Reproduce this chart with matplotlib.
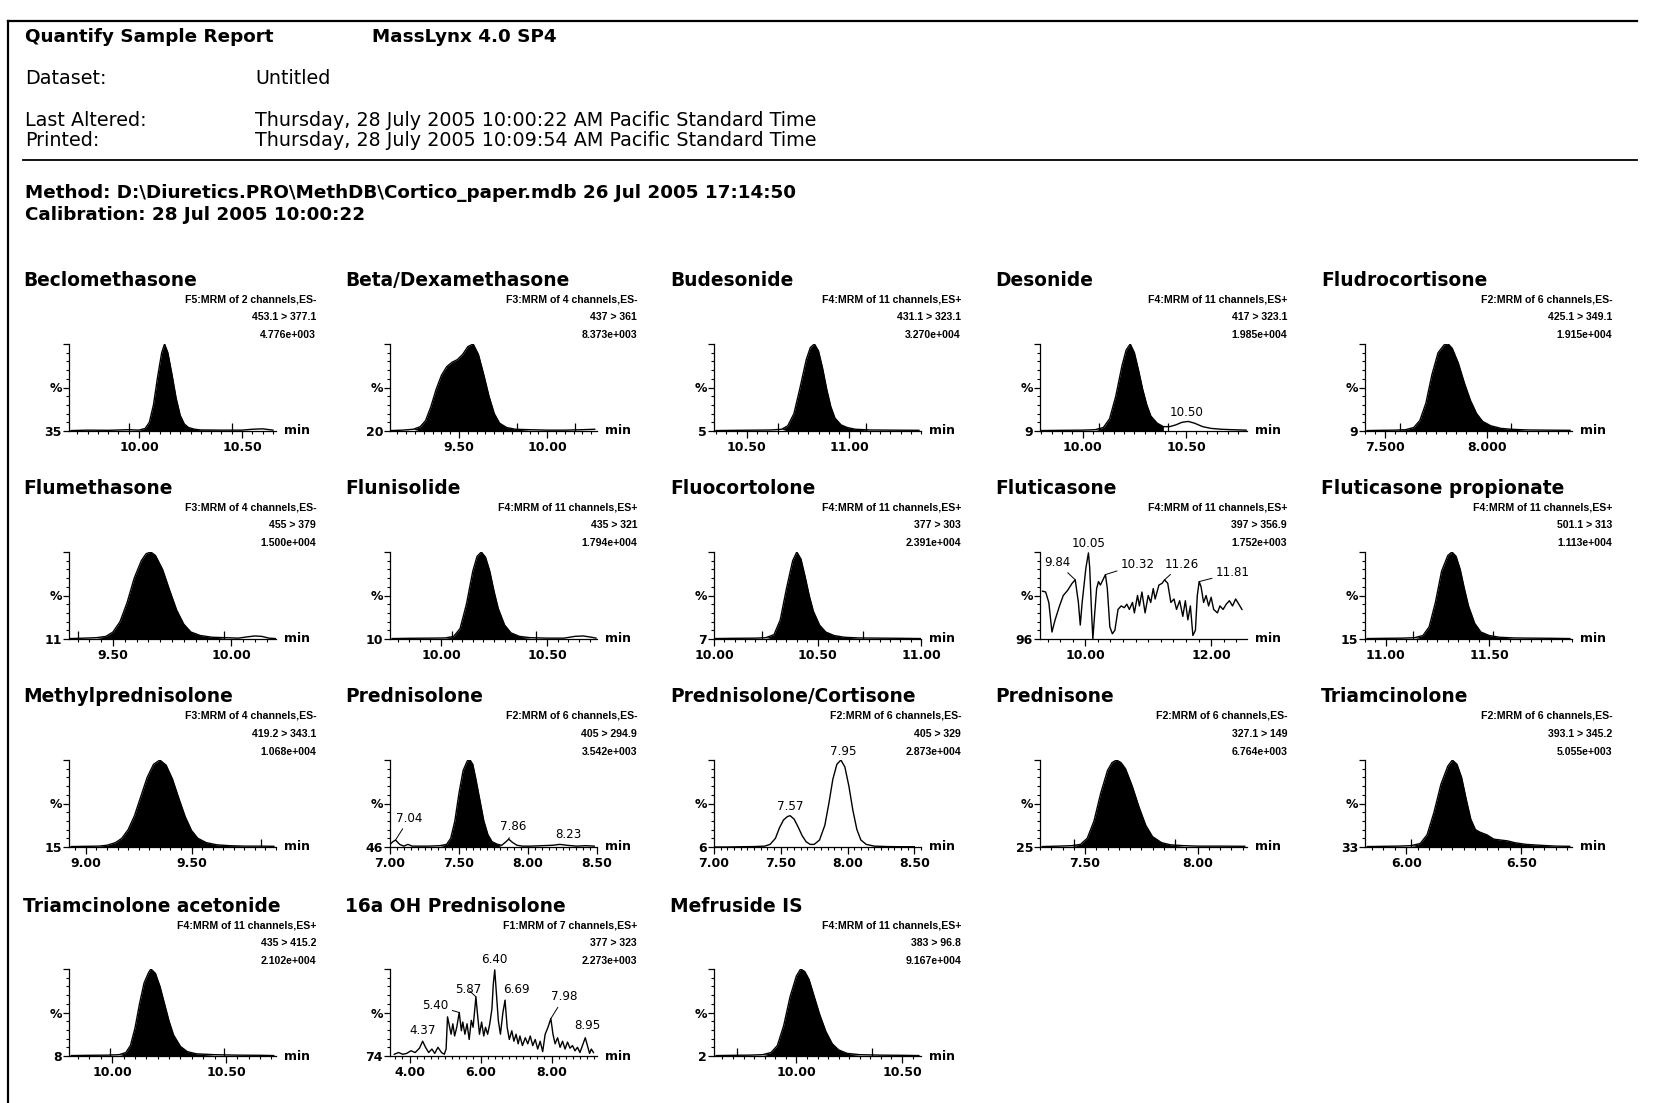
import numpy as np
import matplotlib.pyplot as plt
from matplotlib import font_manager
from matplotlib.lines import Line2D
from matplotlib.ticker import MultipleLocator

# ---- report header ----
report_title = "Quantify Sample Report"
software = "MassLynx 4.0 SP4"
dataset = "Untitled"
altered = "Thursday, 28 July 2005 10:00:22 AM Pacific Standard Time"
printed = "Thursday, 28 July 2005 10:09:54 AM Pacific Standard Time"
method = "Method: D:\\Diuretics.PRO\\MethDB\\Cortico_paper.mdb 26 Jul 2005 17:14:50"
calibration = "Calibration: 28 Jul 2005 10:00:22"

# ---- panel captions ----
names = ["Beclomethasone", "Beta/Dexamethasone", "Budesonide", "Desonide", "Fludrocortisone",
         "Flumethasone", "Flunisolide", "Fluocortolone", "Fluticasone", "Fluticasone propionate",
         "Methylprednisolone", "Prednisolone", "Prednisolone/Cortisone", "Prednisone", "Triamcinolone",
         "Triamcinolone acetonide", "16a OH Prednisolone", "Mefruside IS"]
functions = ["F5:MRM of 2 channels,ES-", "F3:MRM of 4 channels,ES-", "F4:MRM of 11 channels,ES+",
             "F4:MRM of 11 channels,ES+", "F2:MRM of 6 channels,ES-",
             "F3:MRM of 4 channels,ES-", "F4:MRM of 11 channels,ES+", "F4:MRM of 11 channels,ES+",
             "F4:MRM of 11 channels,ES+", "F4:MRM of 11 channels,ES+",
             "F3:MRM of 4 channels,ES-", "F2:MRM of 6 channels,ES-", "F2:MRM of 6 channels,ES-",
             "F2:MRM of 6 channels,ES-", "F2:MRM of 6 channels,ES-",
             "F4:MRM of 11 channels,ES+", "F1:MRM of 7 channels,ES+", "F4:MRM of 11 channels,ES+"]
transitions = ["453.1 > 377.1", "437 > 361", "431.1 > 323.1", "417 > 323.1", "425.1 > 349.1",
               "455 > 379", "435 > 321", "377 > 303", "397 > 356.9", "501.1 > 313",
               "419.2 > 343.1", "405 > 294.9", "405 > 329", "327.1 > 149", "393.1 > 345.2",
               "435 > 415.2", "377 > 323", "383 > 96.8"]
intensities = ["4.776e+003", "8.373e+003", "3.270e+004", "1.985e+004", "1.915e+004",
               "1.500e+004", "1.794e+004", "2.391e+004", "1.752e+003", "1.113e+004",
               "1.068e+004", "3.542e+003", "2.873e+004", "6.764e+003", "5.055e+003",
               "2.102e+004", "2.273e+003", "9.167e+004"]
base_labels = ["35", "20", "5", "9", "9", "11", "10", "7", "96", "15",
               "15", "46", "6", "25", "33", "8", "74", "2"]

# ---- x axes (retention time, min) ----
xlims = [(9.66, 10.665), (9.108, 10.283), (10.34, 11.35), (9.794, 10.794), (7.40, 8.42),
         (9.314, 10.19), (9.76, 10.735), (10.0, 11.0), (9.28, 12.57), (10.90, 11.90),
         (8.92, 9.90), (7.0, 8.5), (7.0, 8.55), (7.30, 8.22), (5.82, 6.72),
         (9.81, 10.72), (3.45, 9.28), (9.61, 10.59)]
xtick_labels = [["10.00", "10.50"], ["9.50", "10.00"], ["10.50", "11.00"], ["10.00", "10.50"],
                ["7.500", "8.000"],
                ["9.50", "10.00"], ["10.00", "10.50"], ["10.00", "10.50", "11.00"], ["10.00", "12.00"],
                ["11.00", "11.50"],
                ["9.00", "9.50"], ["7.00", "7.50", "8.00", "8.50"], ["7.00", "7.50", "8.00", "8.50"],
                ["7.50", "8.00"], ["6.00", "6.50"],
                ["10.00", "10.50"], ["4.00", "6.00", "8.00"], ["10.00", "10.50"]]
minor_steps = [0.05, 0.05, 0.05, 0.05, 0.05, 0.05, 0.05, 0.05, 0.2, 0.05,
               0.05, 0.05, 0.05, 0.05, 0.05, 0.05, 0.2, 0.05]

# ---- traces: time (min) and relative intensity (%) ----
becl_t = [9.67, 9.75, 9.85, 9.95, 10.00, 10.03, 10.05, 10.07, 10.09, 10.11, 10.124, 10.14, 10.16,
          10.18, 10.20, 10.22, 10.24, 10.27, 10.30, 10.40, 10.50, 10.55, 10.60, 10.65]
becl_i = [0.5, 1.0, 0.8, 1.5, 1.0, 3, 10, 30, 62, 90, 100, 90, 65, 38, 18, 8, 4, 2, 1.2, 1.0, 1.0, 2.0, 2.5, 1.0]
beta_t = [9.11, 9.18, 9.24, 9.28, 9.31, 9.34, 9.37, 9.40, 9.43, 9.46, 9.49, 9.52, 9.55, 9.58, 9.61,
          9.64, 9.67, 9.70, 9.73, 9.77, 9.82, 9.90, 10.0, 10.1, 10.2, 10.27]
beta_i = [0.5, 1, 2, 5, 12, 28, 48, 64, 74, 79, 82, 88, 97, 100, 88, 65, 40, 20, 9, 4, 2, 1.5, 1, 1, 1.5, 2]
bud_t = [10.35, 10.45, 10.55, 10.62, 10.67, 10.70, 10.73, 10.76, 10.79, 10.81, 10.83, 10.85, 10.87,
         10.89, 10.91, 10.93, 10.96, 10.99, 11.03, 11.10, 11.20, 11.34]
bud_i = [0.5, 0.8, 1, 1.2, 2, 6, 20, 50, 82, 96, 100, 92, 72, 48, 28, 15, 7, 4, 2, 1.2, 1, 0.8]
des_t = [9.80, 9.90, 10.00, 10.06, 10.10, 10.13, 10.16, 10.19, 10.21, 10.23, 10.25, 10.27, 10.29,
         10.31, 10.33, 10.36, 10.39, 10.42, 10.45, 10.48, 10.51, 10.54, 10.58, 10.62, 10.67, 10.72, 10.79]
des_i = [0.5, 0.8, 1, 1.5, 4, 14, 40, 75, 93, 100, 90, 70, 48, 30, 17, 9, 5, 5, 7, 10, 11, 9, 5, 3, 2, 1.5, 1]
flud_t = [7.41, 7.48, 7.55, 7.60, 7.64, 7.67, 7.70, 7.73, 7.76, 7.79, 7.81, 7.83, 7.86, 7.89, 7.92,
          7.95, 7.98, 8.02, 8.07, 8.12, 8.20, 8.30, 8.41]
flud_i = [0.5, 0.8, 1, 1.5, 4, 12, 32, 65, 90, 99, 100, 95, 78, 55, 35, 20, 11, 6, 3, 2, 1.2, 1, 0.8]
flum_t = [9.32, 9.38, 9.43, 9.47, 9.50, 9.53, 9.56, 9.59, 9.62, 9.64, 9.66, 9.68, 9.71, 9.74, 9.77,
          9.80, 9.83, 9.87, 9.92, 9.98, 10.03, 10.07, 10.10, 10.13, 10.16, 10.19]
flum_i = [0.5, 1, 1.5, 3, 8, 20, 42, 70, 90, 98, 100, 96, 80, 56, 33, 17, 8, 4, 2, 1.5, 1, 2.5, 3.5, 3, 1, 0.5]
flun_t = [9.77, 9.85, 9.95, 10.02, 10.06, 10.09, 10.12, 10.15, 10.17, 10.19, 10.21, 10.23, 10.25,
          10.27, 10.30, 10.33, 10.37, 10.42, 10.50, 10.58, 10.63, 10.67, 10.71, 10.73]
flun_i = [0.5, 0.8, 1, 1.2, 3, 12, 40, 78, 95, 100, 94, 78, 55, 35, 16, 7, 3, 1.5, 1, 1, 3, 3.5, 2, 1]
fluo_t = [10.0, 10.1, 10.2, 10.25, 10.29, 10.32, 10.35, 10.38, 10.40, 10.42, 10.44, 10.46, 10.48,
          10.51, 10.54, 10.58, 10.63, 10.70, 10.80, 10.90, 11.0]
fluo_i = [0.5, 0.8, 1, 1.5, 5, 22, 58, 90, 100, 92, 72, 50, 32, 16, 8, 4, 2, 1.2, 1, 0.8, 0.5]
flut_t = [9.32, 9.37, 9.42, 9.47, 9.52, 9.59, 9.65, 9.72, 9.79, 9.84, 9.89, 9.92, 9.95, 10.01,
          10.05, 10.07, 10.10, 10.12, 10.15, 10.18, 10.21, 10.24, 10.28, 10.32, 10.35, 10.39, 10.43,
          10.47, 10.52, 10.57, 10.62, 10.66, 10.70, 10.75, 10.78, 10.83, 10.86, 10.90, 10.95, 11.00,
          11.04, 11.08, 11.11, 11.17, 11.22, 11.26, 11.31, 11.36, 11.41, 11.45, 11.50, 11.55, 11.59,
          11.63, 11.67, 11.71, 11.75, 11.78, 11.81, 11.84, 11.88, 11.92, 11.96, 12.00, 12.04, 12.10,
          12.14, 12.19, 12.24, 12.29, 12.34, 12.39, 12.44, 12.49]
flut_i = [55, 54, 42, 8, 22, 38, 50, 56, 64, 68, 42, 16, 42, 82, 99, 82, 30, 0, 30, 58, 66, 62,
          68, 74, 58, 14, 6, 10, 34, 38, 36, 40, 34, 42, 30, 50, 38, 54, 30, 50, 42, 58, 46, 62, 64,
          68, 64, 42, 46, 34, 44, 26, 44, 22, 38, 4, 10, 50, 66, 60, 42, 50, 38, 48, 34, 30, 38, 34,
          40, 44, 38, 46, 40, 34]
flp_t = [10.91, 11.0, 11.08, 11.14, 11.18, 11.21, 11.24, 11.27, 11.30, 11.32, 11.34, 11.36, 11.38,
         11.40, 11.43, 11.46, 11.50, 11.55, 11.62, 11.70, 11.80, 11.89]
flp_i = [0.5, 0.8, 1, 1.5, 4, 14, 42, 78, 96, 100, 95, 80, 58, 38, 18, 8, 4, 2, 1.2, 1, 0.8, 0.5]
meth_t = [8.93, 9.00, 9.06, 9.10, 9.14, 9.17, 9.20, 9.23, 9.26, 9.29, 9.32, 9.35, 9.38, 9.41, 9.44,
          9.47, 9.50, 9.53, 9.57, 9.62, 9.68, 9.75, 9.82, 9.89]
meth_i = [0.5, 0.8, 1, 2, 5, 10, 20, 36, 58, 80, 95, 100, 94, 78, 56, 35, 19, 10, 5, 2.5, 1.5, 1, 1, 0.8]
pred_t = [7.00, 7.02, 7.04, 7.07, 7.10, 7.13, 7.16, 7.20, 7.28, 7.36, 7.41, 7.44, 7.47, 7.50, 7.53,
          7.56, 7.58, 7.60, 7.62, 7.65, 7.68, 7.71, 7.74, 7.78, 7.81, 7.84, 7.86, 7.89, 7.92, 7.96,
          8.02, 8.10, 8.18, 8.23, 8.28, 8.35, 8.42, 8.48]
pred_i = [3, 6, 8, 3, 1, 3, 1, 1, 1, 1.5, 3, 10, 30, 62, 88, 99, 100, 95, 80, 55, 30, 14, 6, 3, 2,
          6, 9, 5, 2, 1, 1, 1.5, 2, 3, 2, 1, 1.5, 1]
pc_t = [7.00, 7.10, 7.20, 7.30, 7.38, 7.42, 7.46, 7.49, 7.52, 7.55, 7.57, 7.60, 7.63, 7.66, 7.69,
        7.72, 7.75, 7.79, 7.83, 7.86, 7.89, 7.92, 7.95, 7.98, 8.01, 8.04, 8.07, 8.10, 8.14, 8.20,
        8.30, 8.40, 8.50]
pc_i = [0, 0, 0.3, 0.5, 1, 3, 10, 22, 31, 35, 36, 32, 23, 13, 6, 3, 3, 8, 25, 50, 78, 95, 100, 92,
        70, 42, 20, 8, 3, 1, 0.5, 0.3, 0.3]
pne_t = [7.31, 7.38, 7.44, 7.48, 7.51, 7.54, 7.57, 7.60, 7.62, 7.64, 7.66, 7.68, 7.71, 7.74, 7.77,
         7.80, 7.84, 7.88, 7.94, 8.00, 8.10, 8.21]
pne_i = [0.5, 1, 1.5, 3, 10, 30, 62, 88, 97, 100, 97, 90, 70, 46, 25, 12, 5, 2.5, 1.5, 1, 1, 0.8]
tri_t = [5.83, 5.90, 5.96, 6.02, 6.06, 6.09, 6.12, 6.15, 6.18, 6.20, 6.22, 6.24, 6.26, 6.28, 6.30,
         6.32, 6.35, 6.38, 6.41, 6.44, 6.47, 6.52, 6.58, 6.65, 6.71]
tri_i = [0.5, 0.8, 1, 1.5, 4, 14, 40, 72, 93, 100, 95, 80, 55, 32, 20, 17, 14, 9, 8, 7, 5, 3, 2, 1, 0.8]
ta_t = [9.82, 9.90, 9.98, 10.03, 10.06, 10.08, 10.10, 10.12, 10.14, 10.16, 10.17, 10.19, 10.21,
        10.23, 10.25, 10.27, 10.30, 10.33, 10.37, 10.45, 10.55, 10.65, 10.71]
ta_i = [0.5, 0.8, 1, 1.5, 4, 12, 32, 60, 84, 96, 100, 95, 80, 60, 40, 24, 11, 5, 2.5, 1.5, 1, 0.8, 0.5]
oh_t = [3.57, 3.69, 3.81, 3.92, 4.04, 4.16, 4.28, 4.37, 4.45, 4.54, 4.63, 4.71, 4.80, 4.90, 4.98,
        5.03, 5.07, 5.13, 5.17, 5.22, 5.27, 5.33, 5.40, 5.46, 5.50, 5.56, 5.62, 5.68, 5.74, 5.79,
        5.87, 5.91, 5.97, 6.03, 6.09, 6.14, 6.20, 6.26, 6.32, 6.36, 6.40, 6.45, 6.50, 6.56, 6.63,
        6.69, 6.75, 6.81, 6.88, 6.94, 7.00, 7.06, 7.11, 7.18, 7.26, 7.33, 7.40, 7.47, 7.54, 7.61,
        7.68, 7.75, 7.82, 7.90, 7.98, 8.04, 8.10, 8.17, 8.24, 8.31, 8.38, 8.45, 8.52, 8.59, 8.66,
        8.73, 8.80, 8.87, 8.95, 9.01, 9.07, 9.12, 9.18]
oh_i = [2, 4, 2, 3, 6, 4, 9, 17, 10, 4, 8, 3, 10, 4, 2, 8, 45, 33, 25, 37, 23, 33, 50, 29, 39, 25,
        37, 19, 41, 33, 68, 50, 25, 39, 23, 33, 25, 37, 54, 83, 99, 70, 41, 25, 50, 64, 33, 19, 29,
        17, 25, 14, 23, 12, 21, 14, 23, 12, 19, 8, 17, 5, 25, 33, 43, 25, 14, 21, 10, 17, 8, 16, 9,
        12, 6, 10, 4, 12, 21, 12, 3, 8, 4]
mef_t = [9.62, 9.70, 9.78, 9.84, 9.88, 9.91, 9.94, 9.97, 10.00, 10.02, 10.04, 10.06, 10.08, 10.11,
         10.14, 10.17, 10.20, 10.24, 10.30, 10.40, 10.50, 10.58]
mef_i = [0.5, 0.8, 1, 1.5, 4, 12, 35, 68, 92, 100, 97, 88, 72, 48, 28, 14, 7, 3, 1.5, 1, 0.8, 0.5]

times = [becl_t, beta_t, bud_t, des_t, flud_t, flum_t, flun_t, fluo_t, flut_t, flp_t,
         meth_t, pred_t, pc_t, pne_t, tri_t, ta_t, oh_t, mef_t]
signals = [becl_i, beta_i, bud_i, des_i, flud_i, flum_i, flun_i, fluo_i, flut_i, flp_i,
           meth_i, pred_i, pc_i, pne_i, tri_i, ta_i, oh_i, mef_i]

# integrated (filled) window of the quantified peak, None = not integrated
peak_windows = [(10.02, 10.30), (9.26, 9.82), (10.68, 11.03), (10.07, 10.40), (7.60, 8.12),
                (9.46, 9.95), (10.05, 10.40), (10.27, 10.68), None, (11.16, 11.55),
                (9.08, 9.70), (7.40, 7.78), None, (7.46, 7.92), (6.03, 6.60),
                (10.04, 10.38), None, (9.85, 10.28)]
# integration markers on the baseline
markers = [[9.95, 10.45], [9.83, 10.16], [10.65, 11.08], [10.08, 10.41], [7.57, 8.12],
           [9.35, 9.97], [10.05, 10.45], [10.23, 10.72], [], [11.13, 11.52],
           [9.83], [], [], [7.45, 7.90], [6.02],
           [9.99, 10.49], [], [9.72, 10.36]]
# labelled peaks: (label, peak time, peak %, text time, text %, leader line)
peak_labels = {
    3: [("10.50", 10.50, 11, 10.50, 21, False)],
    8: [("9.84", 9.84, 68, 9.55, 88, True), ("10.05", 10.05, 99, 10.05, 110, False),
        ("10.32", 10.32, 74, 10.84, 86, True), ("11.26", 11.26, 68, 11.53, 86, True),
        ("11.81", 11.81, 66, 12.35, 76, True)],
    11: [("7.04", 7.04, 8, 7.14, 33, True), ("7.86", 7.86, 9, 7.89, 23, True),
         ("8.23", 8.23, 3, 8.29, 14, False)],
    12: [("7.57", 7.57, 36, 7.57, 47, False), ("7.95", 7.95, 100, 7.97, 110, False)],
    16: [("4.37", 4.37, 17, 4.37, 29, False), ("5.40", 5.40, 50, 4.72, 58, True),
         ("5.87", 5.87, 68, 5.66, 76, True), ("6.40", 6.40, 99, 6.40, 111, False),
         ("6.69", 6.69, 64, 7.02, 76, True), ("7.98", 7.98, 43, 8.36, 68, True),
         ("8.95", 8.95, 21, 9.00, 35, False)],
}

# ---- layout (pixels of the 1667 x 1103 page) ----
W, H = 1667, 1103
col_axis_x = [69, 390, 714, 1040, 1365]
col_title_x = [23, 345, 670, 995, 1321]
row_base_y = [431, 639, 847, 1056]
row_title_y = [280, 488, 697, 906]
ax_w, ax_h = 207, 87

installed = {f.name for f in font_manager.fontManager.ttflist}
if "Liberation Sans Narrow" in installed:
    small_font, small_size = "Liberation Sans Narrow", 9.3
else:
    small_font, small_size = "Liberation Sans", 7.6
bold_font = "DejaVu Sans"
body_font = "DejaVu Sans"

fig = plt.figure(figsize=(W / 100, H / 100), dpi=100)


def ftext(x, y, s, **kw):
    kw.setdefault("family", body_font)
    fig.text(x / W, 1 - y / H, s, va="center", **kw)


def hline(x0, x1, y, lw=1.6):
    fig.add_artist(Line2D([x0 / W, x1 / W], [1 - y / H, 1 - y / H], color="black", lw=lw))


# page frame and header
fig.add_artist(Line2D([8 / W, 8 / W], [0, 1 - 21 / H], color="black", lw=1.6))
hline(8, 1637, 21)
hline(23, 1637, 160, lw=1.3)
ftext(25, 37, report_title, fontsize=13.2, weight="bold")
ftext(372, 37, software, fontsize=13.2, weight="bold")
ftext(25, 79, "Dataset:", fontsize=13.8)
ftext(255, 79, dataset, fontsize=13.8)
ftext(25, 120, "Last Altered:", fontsize=13.8)
ftext(255, 120, altered, fontsize=13.8)
ftext(25, 141, "Printed:", fontsize=13.8)
ftext(255, 141, printed, fontsize=13.8)
ftext(25, 193, method, fontsize=13.2, weight="bold")
ftext(25, 215, calibration, fontsize=13.2, weight="bold")

for k in range(len(names)):
    r, c = divmod(k, 5)
    ax_x = col_axis_x[c]
    base_y = row_base_y[r]
    ty = row_title_y[r]

    ftext(col_title_x[c], ty, names[k], fontsize=13.4, weight="bold", family=bold_font)
    right = ax_x + 247
    ftext(right, ty + 19, functions[k], fontsize=small_size, ha="right", family=small_font,
          weight="bold")
    ftext(right, ty + 37, transitions[k], fontsize=small_size, ha="right", family=small_font,
          weight="bold")
    ftext(right, ty + 55, intensities[k], fontsize=small_size, ha="right", family=small_font,
          weight="bold")

    ax = fig.add_axes([ax_x / W, 1 - base_y / H, ax_w / W, ax_h / H])
    t = np.array(times[k])
    s = np.array(signals[k])
    if peak_windows[k] is not None:
        a, b = peak_windows[k]
        ax.fill_between(t, s, 0, where=(t >= a) & (t <= b), interpolate=True,
                        color="black", lw=0)
    ax.plot(t, s, color="black", lw=1.0)
    if markers[k]:
        ax.vlines(markers[k], 0, 9, color="black", lw=0.9)

    for lab, px, py, tx, tyy, leader in peak_labels.get(k, []):
        if leader:
            ax.annotate(lab, xy=(px, py), xytext=(tx, tyy), ha="center", va="center",
                        fontsize=8.6, family=body_font, annotation_clip=False,
                        arrowprops=dict(arrowstyle="-", lw=0.7, color="black",
                                        shrinkA=1, shrinkB=0))
        else:
            ax.text(tx, tyy, lab, ha="center", va="center", fontsize=8.6, family=body_font,
                    clip_on=False)

    ax.set_xlim(*xlims[k])
    ax.set_ylim(0, 100)
    ticks = [float(v) for v in xtick_labels[k]]
    ax.set_xticks(ticks)
    ax.set_xticklabels(xtick_labels[k], fontsize=9, family=bold_font, weight="bold")
    ax.xaxis.set_minor_locator(MultipleLocator(minor_steps[k]))
    ax.set_yticks([0, 50, 100])
    ax.set_yticklabels([base_labels[k], "%", ""], fontsize=9, family=bold_font, weight="bold")
    ax.yaxis.set_minor_locator(MultipleLocator(10))
    ax.tick_params(axis="x", which="major", length=5, width=0.9, pad=2)
    ax.tick_params(axis="x", which="minor", length=2.5, width=0.8)
    ax.tick_params(axis="y", which="major", length=4, width=0.9, pad=1)
    ax.tick_params(axis="y", which="minor", length=2.5, width=0.8)
    for side in ("top", "right"):
        ax.spines[side].set_visible(False)
    for side in ("left", "bottom"):
        ax.spines[side].set_linewidth(0.9)
    ax.patch.set_alpha(0)
    ax.text(1 + 8 / ax_w, 0, "min", transform=ax.transAxes, ha="left", va="center",
            fontsize=9, family=bold_font, weight="bold")

fig.savefig("out.png", dpi=100, facecolor="white")
